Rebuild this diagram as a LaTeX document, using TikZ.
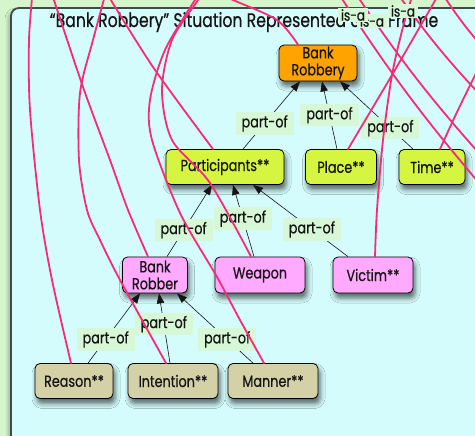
\documentclass[tikz,border=0pt]{standalone}
\usepackage{fontspec}
\setmainfont{Poppins}[FakeStretch=0.8, FakeBold=0.5]
\usetikzlibrary{arrows.meta,shadows.blur}

\definecolor{pagebg}{RGB}{213,245,205}
\definecolor{framefill}{RGB}{212,252,252}
\definecolor{frameline}{RGB}{64,74,74}
\definecolor{isapink}{RGB}{246,44,122}
\definecolor{lblfill}{RGB}{214,248,214}
\definecolor{topfill}{RGB}{255,163,0}
\definecolor{midfill}{RGB}{214,245,64}
\definecolor{rolefill}{RGB}{255,170,255}
\definecolor{subfill}{RGB}{213,209,167}
\definecolor{ink}{RGB}{20,20,20}

\tikzset{
  slot/.style={draw=black, line width=0.8pt, rounded corners=5pt,
    minimum height=35pt, inner sep=1pt, align=center, text=ink,
    font=\fontsize{16}{17}\selectfont,
    blur shadow={shadow xshift=2pt, shadow yshift=-5pt,
      shadow blur radius=5pt, shadow opacity=60}},
  partof/.style={-{Triangle[length=10pt,width=7.5pt]}, line width=0.6pt, ink},
  lbl/.style={fill=lblfill, inner xsep=6pt, inner ysep=3pt, text=ink,
    font=\fontsize{16}{16}\selectfont},
  isalbl/.style={fill=lblfill, inner xsep=3pt, inner ysep=1.5pt, text=ink,
    font=\fontsize{15}{15}\selectfont},
  isa/.style={isapink, line width=1.8pt, line cap=round},
}

\begin{document}
\begin{tikzpicture}[x=1pt, y=-1pt]
\useasboundingbox (0,0) rectangle (475,436);
\clip (0,0) rectangle (475,436);
\fill[pagebg] (0,0) rectangle (475,436);

% frame panel
\draw[frameline, line width=1.8pt, fill=framefill, rounded corners=8pt,
  blur shadow={shadow xshift=-3pt, shadow yshift=-3pt, shadow blur radius=3pt, shadow opacity=25}]
  (11,8) rectangle (500,470);
\node[anchor=base, text=ink, font=\fontsize{19.6}{21}\selectfont] (title) at (244,27)
  {“Bank Robbery” Situation Represented as a Frame};

% slots
\node[slot, fill=topfill, minimum width=78pt, minimum height=36pt] (robbery) at (318,63) {Bank\\Robbery};
\node[slot, fill=midfill, minimum width=118pt] (participants) at (225,167) {Participants**};
\node[slot, fill=midfill, minimum width=71pt] (place) at (341,167) {Place**};
\node[slot, fill=midfill, minimum width=66pt] (time) at (432,167) {Time**};
\node[slot, fill=rolefill, minimum width=65pt, minimum height=36pt] (robber) at (155,275) {Bank\\Robber};
\node[slot, fill=rolefill, minimum width=90pt, minimum height=36pt] (weapon) at (260,275) {Weapon};
\node[slot, fill=rolefill, minimum width=80pt, minimum height=36pt] (victim) at (373,275) {Victim**};
\node[slot, fill=subfill, minimum width=78pt] (reason) at (74,381) {Reason**};
\node[slot, fill=subfill, minimum width=90pt] (intention) at (173,381) {Intention**};
\node[slot, fill=subfill, minimum width=90pt] (manner) at (273,381) {Manner**};

% part-of links
\draw[partof] ([xshift=18pt]participants.north) -- node[lbl, pos=0.38] {part-of} ([xshift=-18pt]robbery.south);
\draw[partof] ([xshift=-4pt]place.north) -- node[lbl, pos=0.5] {part-of} ([xshift=4pt]robbery.south);
\draw[partof] ([xshift=-19pt]time.north) -- node[lbl, pos=0.31] {part-of} ([xshift=22pt]robbery.south);
\draw[partof] ([xshift=12pt]robber.north) -- node[lbl, pos=0.37] {part-of} ([xshift=-13pt]participants.south);
\draw[partof] ([xshift=-6pt]weapon.north) -- node[lbl, pos=0.53] {part-of} ([xshift=8pt]participants.south);
\draw[partof] ([xshift=-25pt]victim.north) -- node[lbl, pos=0.38] {part-of} ([xshift=28pt]participants.south);
\draw[partof] ([xshift=14pt]reason.north) -- node[lbl, pos=0.34] {part-of} ([xshift=-15pt]robber.south);
\draw[partof] ([xshift=-3pt]intention.north) -- node[lbl, pos=0.56] {part-of} ([xshift=4pt]robber.south);
\draw[partof] ([xshift=-20pt]manner.north) -- node[lbl, pos=0.34] {part-of} ([xshift=22pt]robber.south);

% is-a links leaving the panel towards the generic frames
\coordinate (rsA) at ([xshift=-3pt]reason.north);
\coordinate (inB) at ([xshift=-7pt]intention.north);
\coordinate (rbC) at ([xshift=-7pt]robber.north);
\coordinate (paD) at ([xshift=-12pt]participants.north);
\coordinate (weE) at ([xshift=-9pt]weapon.north);
\coordinate (maF) at ([xshift=-9pt]manner.north);
\coordinate (roG) at ([xshift=-20pt]robbery.north);
\coordinate (plH) at ([xshift=7pt]place.north);
\coordinate (viI) at ([xshift=2pt]victim.north);
\coordinate (tiJ) at ([xshift=8pt]time.north);

\coordinate (upA) at (33,-12);
\coordinate (upB) at (106,-8);
\coordinate (upC) at (50,-12);
\coordinate (upD) at (203,-10);
\coordinate (upE) at (215,-8);
\coordinate (upF) at (440,-8);
\coordinate (upG) at (414,-10);
\coordinate (upH) at (485,55);

\draw[isa] plot[smooth] coordinates {(rsA) (52,280) (40,210) (30,110) (29,40) (upA)};
\draw[isa] plot[smooth] coordinates {(inB) (120,280) (100,240) (87,210) (79,160) (80,93) (93,40) (upB)};
\draw[isa] plot[smooth] coordinates {(rbC) (128,210) (110,160) (83,87) (upC)};
\draw[isa] plot[smooth] coordinates {(paD) (153,67) (upB)};
\draw[isa] plot[smooth] coordinates {(weE) (210,183) (172,140) (162,90) (172,40) (198,0) (upD)};
\draw[isa] plot[smooth] coordinates {(maF) (240,320) (217,277) (180,213) (152,140) (150,100) (165,50) (195,0) (upD)};
\draw[isa] plot[smooth] coordinates {(roG) (277,20) (233,0) (upE)};
\draw[isa] plot[smooth] coordinates {(plH) (392,75) (upF)};
\draw[isa] plot[smooth] coordinates {(viI) (377,210) (383,140) (392,75) (403,27) (upG)};
\draw[isa] plot[smooth] coordinates {(tiJ) (458,110) (upH)};

% is-a links passing through from neighbouring frames
\coordinate (xa1) at (330,-20); \coordinate (xb1) at (485,190);
\coordinate (xa2) at (350,-15); \coordinate (xb2) at (485,160);
\coordinate (xa3) at (395,-10); \coordinate (xb3) at (485,100);
\coordinate (xa4) at (440,-10); \coordinate (xb4) at (485,50);
\draw[isa] (xa1) to[bend right=4] (xb1);
\draw[isa] (xa2) to[bend right=4] (xb2);
\draw[isa] (xa3) to[bend right=4] (xb3);
\draw[isa] (xa4) to[bend right=4] (xb4);

\node[isalbl] (isa2) at (372,21) {is-a};
\node[isalbl] (isa1) at (353,15) {is-a};
\node[isalbl] (isa3) at (403,11) {is-a};
\end{tikzpicture}
\end{document}
